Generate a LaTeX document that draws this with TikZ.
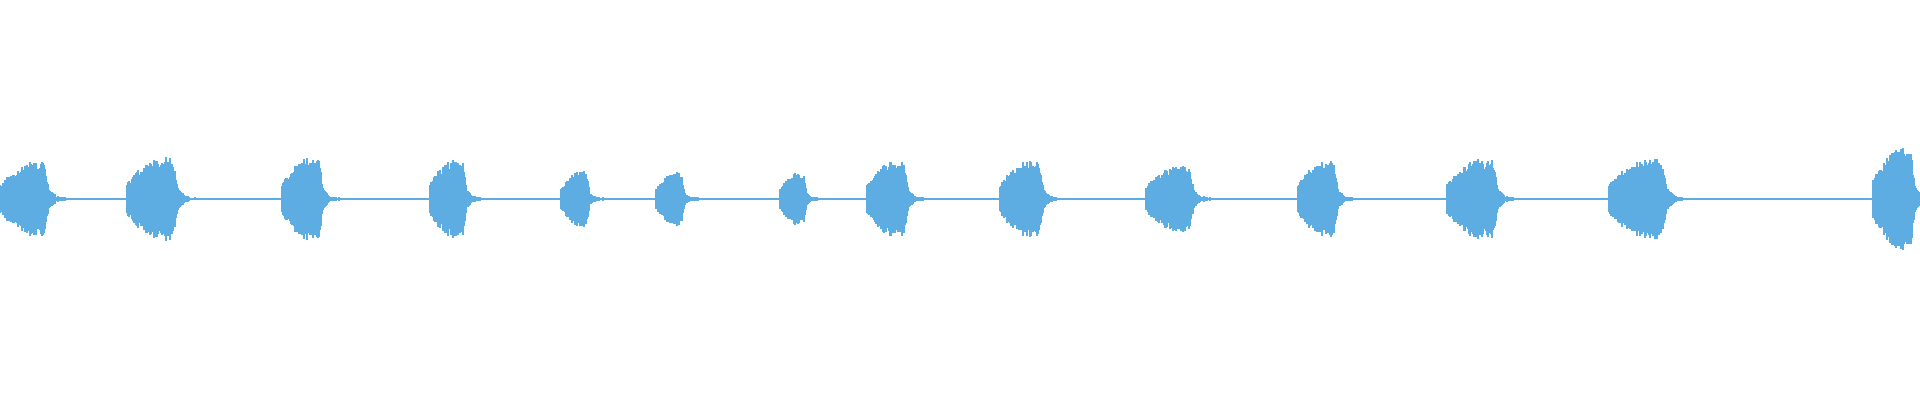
\documentclass[tikz,border=0pt]{standalone}
\usepackage{tikz}

\definecolor{wave}{HTML}{5DADE2}

\begin{document}
\begin{tikzpicture}[x=0.01cm, y=0.01cm]
	\tikzset{bar/.style={draw=wave, line width=0.011cm}}
	\pgfmathsetseed{7}
	\useasboundingbox (0, 0) rectangle (1920, 400);
	\clip (0, 0) rectangle (1920, 400);

	% baseline
	\draw[wave, line width=0.012cm] (0, 201) -- (1920, 201);

	% bursts: start/end/peak amplitude
	\foreach \s/\e/\a in {0/55/37, 127/184/42, 282/328/42, 430/471/40, 561/593/28,
		656/688/27, 780/810/27, 867/913/38, 1000/1049/39, 1146/1200/33,
		1298/1343/38, 1447/1504/40, 1609/1674/40, 1873/1920/51} {
		\pgfmathtruncatemacro\w{\e-\s}
		\foreach \i in {0,...,\w} {
			\pgfmathsetmacro\t{\i/\w}
			\pgfmathsetmacro\env{\t<=0.8 ? 0.4+0.6*sin(min(90, 90*\t/0.6)) :
				(\t<=0.9 ? 1-0.75*(\t-0.8)/0.1 : 0.25-1.2*(\t-0.9))}
			\pgfmathsetmacro\h{\a*\env*(0.75+0.25*rnd)}
			\draw[bar] (\s+\i, 201-\h) -- (\s+\i, 201+\h);
		}
		% tail
		\foreach \i in {1,...,18} {
			\pgfmathsetmacro\h{(3.5-\i/6)*(0.5+0.5*rnd)}
			\draw[bar] (\e+\i, 201-\h) -- (\e+\i, 201+\h);
		}
	}
\end{tikzpicture}
\end{document}
